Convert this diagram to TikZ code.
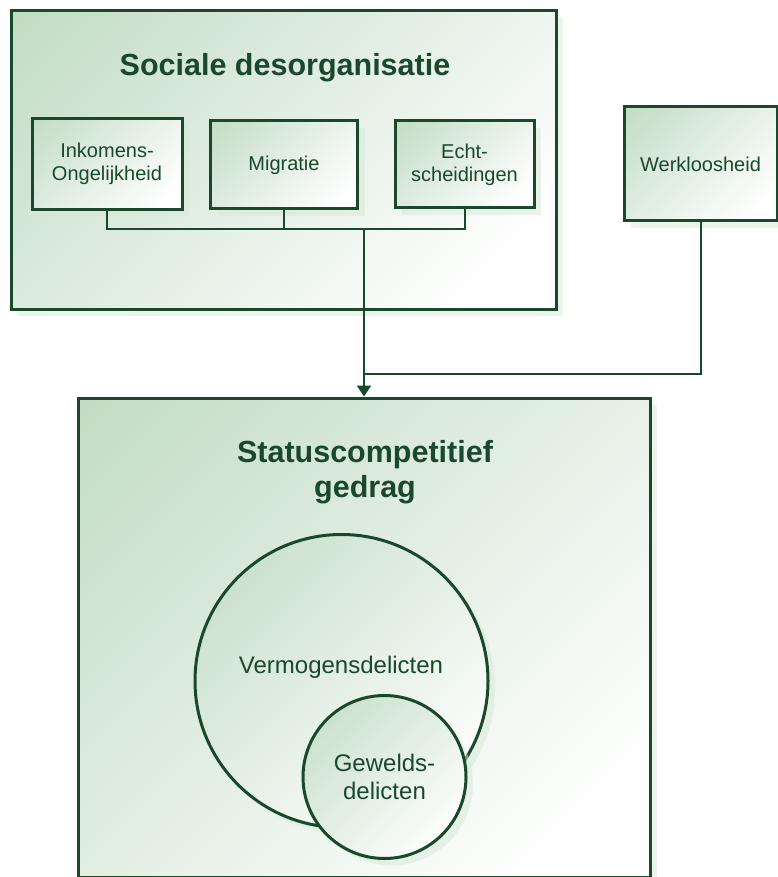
\documentclass[tikz,border=0pt]{standalone}
\usepackage{fontspec}
\setmainfont{Liberation Sans}
\usetikzlibrary{arrows.meta}
\usetikzlibrary{shadows}

\definecolor{donkergroen}{RGB}{26,72,44}
\definecolor{lichtgroen}{RGB}{180,212,182}
\definecolor{schaduw}{RGB}{216,232,216}

\pgfdeclareverticalshading{groenverloop}{100bp}{color(0bp)=(white); color(22bp)=(white); color(100bp)=(lichtgroen)}

\tikzset{
    groen/.style = {draw = donkergroen, line width = 3pt, shade, shading = groenverloop,
        shading angle = 45, inner sep = 0,
        drop shadow = {shadow xshift = 7pt, shadow yshift = -7pt, fill = schaduw}},
    blok/.style = {groen, rectangle},
    bol/.style = {groen, circle},
    tekst/.style = {text = donkergroen, align = center, font = \fontsize{20}{23}\selectfont},
    groottekst/.style = {text = donkergroen, align = center, font = \fontsize{24}{28}\selectfont},
    kop/.style = {text = donkergroen, align = center, font = \fontsize{30.5}{35}\selectfont\bfseries},
    verbind/.style = {draw = donkergroen, line width = 2pt}
}

\begin{document}
\begin{tikzpicture}[x = 1pt, y = -1pt]
    \useasboundingbox (0, 0) rectangle (778, 877);

    %% sociale desorganisatie
    \node[blok, minimum width = 545pt, minimum height = 298pt] (sociaal) at (283.5, 160) {};
    \node[kop] (sociaaltitel) at (285, 68) {Sociale desorganisatie};
    \node[blok, tekst, minimum width = 150pt, minimum height = 91pt] (inkomens) at (107, 164)
        {Inkomens-\\Ongelijkheid};
    \node[blok, tekst, minimum width = 147pt, minimum height = 88pt] (migratie) at (284, 165)
        {Migratie};
    \node[blok, tekst, minimum width = 139pt, minimum height = 87pt] (echt) at (464.5, 164.5)
        {Echt-\\scheidingen};

    %% werkloosheid
    \node[blok, tekst, minimum width = 153pt, minimum height = 114pt] (werkloos) at (700.5, 164)
        {Werkloosheid};

    %% statuscompetitief gedrag
    \node[blok, minimum width = 572pt, minimum height = 479pt] (status) at (364, 637.5) {};
    \node[kop] (statustitel) at (365, 472) {Statuscompetitief\\gedrag};
    \node[bol, minimum size = 293pt] (vermogen) at (341.5, 681) {};
    \node[groottekst] (vermogentekst) at (341, 667) {Vermogensdelicten};
    \node[bol, groottekst, minimum size = 163pt] (geweld) at (384.5, 777) {Gewelds-\\delicten};

    %% verbindingen
    \coordinate (samen) at (364, 229);
    \coordinate (knik) at (364, 374);
    \draw[verbind] (inkomens.south) |- (samen);
    \draw[verbind] (migratie.south) |- (samen);
    \draw[verbind] (echt.south) |- (samen);
    \draw[verbind] (werkloos.south) |- (knik);
    \draw[verbind, -{Triangle[width = 14pt, length = 11pt]}] (samen) -- (status.north);
\end{tikzpicture}
\end{document}
